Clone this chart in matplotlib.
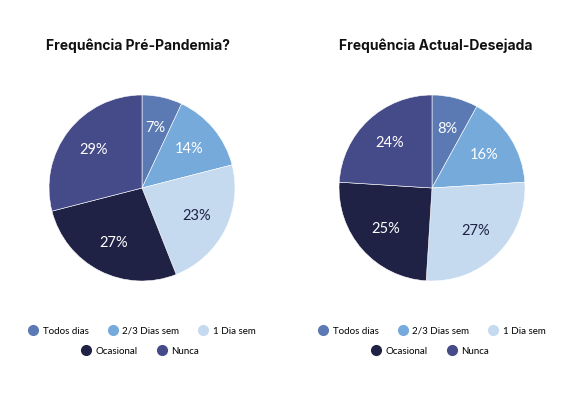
import matplotlib.pyplot as plt
from matplotlib.lines import Line2D

categories = ["Todos dias", "2/3 Dias sem", "1 Dia sem", "Ocasional", "Nunca"]
pre_pandemia = [7, 14, 23, 27, 29]
actual_desejada = [8, 16, 27, 25, 24]
titles = ["Frequência Pré-Pandemia?", "Frequência Actual-Desejada"]
colors = ["#5b79b3", "#75aadb", "#c5daef", "#1f2245", "#454a88"]
label_colors = ["white", "white", "#1f2245", "white", "white"]

W, H = 579, 398
fig = plt.figure(figsize=(W / 100, H / 100), dpi=100)
radius_px = 93

# (pie centre x, pie centre y, values, title, title centre x) in pixels
panels = [
    (142, 188, pre_pandemia, titles[0], 138),
    (432, 188, actual_desejada, titles[1], 436),
]

for cx, cy, values, title, tx in panels:
    ax = fig.add_axes([
        (cx - radius_px) / W,
        (H - cy - radius_px) / H,
        2 * radius_px / W,
        2 * radius_px / H,
    ])
    wedges, texts, autotexts = ax.pie(
        values,
        colors=colors,
        startangle=90,
        counterclock=False,
        autopct="%d%%",
        pctdistance=0.66,
        wedgeprops={"edgecolor": "white", "linewidth": 0.4},
        textprops={"family": "Lato", "fontsize": 10.5},
    )
    for t, c in zip(autotexts, label_colors):
        t.set_color(c)
    ax.set_xlim(-1, 1)
    ax.set_ylim(-1, 1)
    ax.set_aspect("equal")
    fig.text(tx / W, 1 - 46 / H, title,
             ha="center", va="center", fontsize=10, fontweight="bold",
             family="Inter", color="#111111")

    handles = [
        Line2D([], [], marker="o", linestyle="", markersize=7,
               markerfacecolor=c, markeredgecolor=c)
        for c in colors
    ]
    legend_kw = dict(loc="center", frameon=False, handlelength=1.0,
                     handletextpad=0.45, columnspacing=2.0,
                     prop={"family": "Lato", "size": 7})
    fig.legend(handles[:3], categories[:3], ncol=3,
               bbox_to_anchor=(cx / W, 1 - 331 / H), **legend_kw)
    fig.legend(handles[3:], categories[3:], ncol=2,
               bbox_to_anchor=((cx - 2) / W, 1 - 351 / H), **legend_kw)

fig.savefig("out.png", dpi=100, facecolor="white")
